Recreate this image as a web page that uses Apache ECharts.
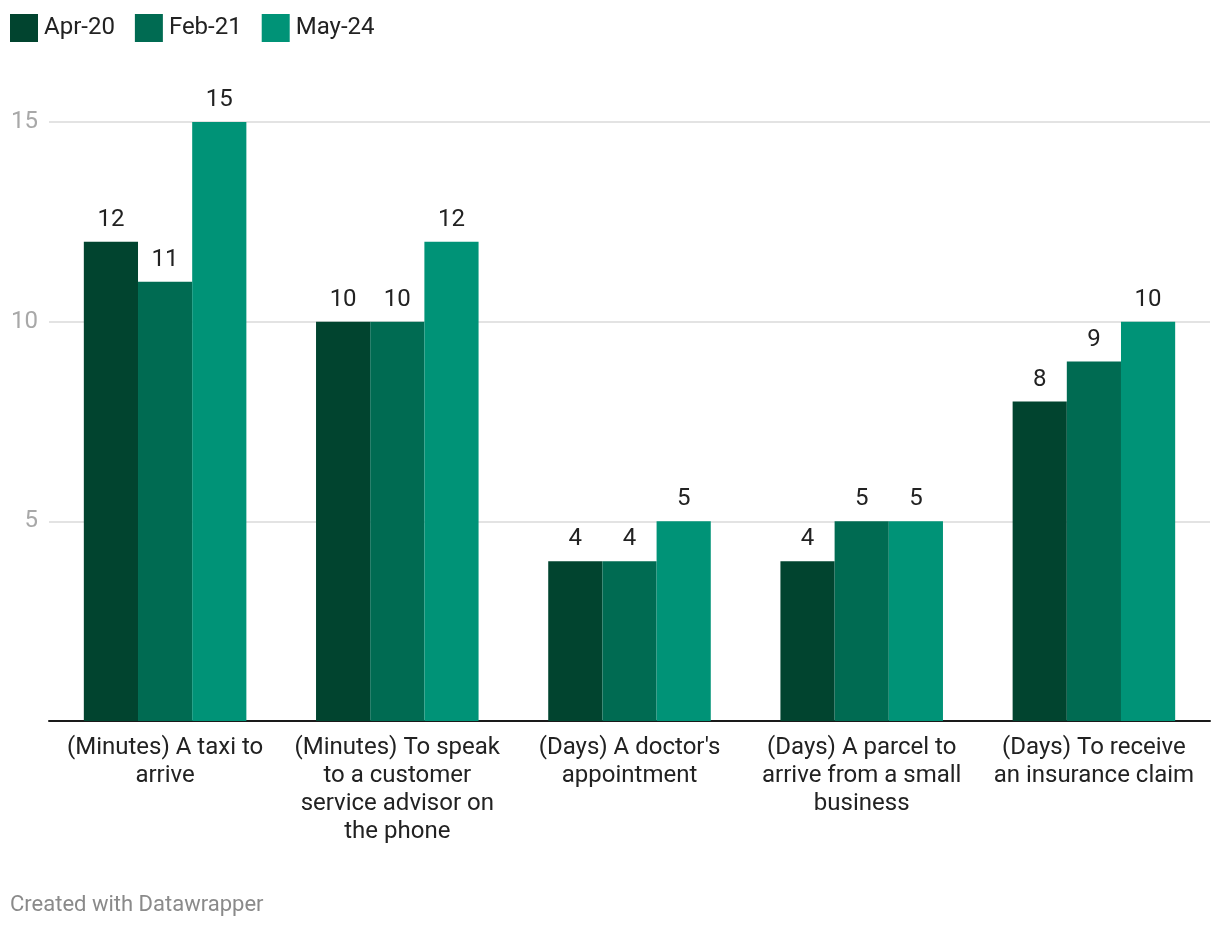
<!DOCTYPE html>
<html>
<head>
<meta charset="utf-8">
<script src="https://cdn.jsdelivr.net/npm/echarts@6/dist/echarts.min.js"></script>
<style>
html,body{margin:0;padding:0;background:#fff;}
#c{width:1220px;height:928px;}
</style>
</head>
<body>
<div id="c"></div>
<script>
const categories = [
  "(Minutes) A taxi to\narrive",
  "(Minutes) To speak\nto a customer\nservice advisor on\nthe phone",
  "(Days) A doctor's\nappointment",
  "(Days) A parcel to\narrive from a small\nbusiness",
  "(Days) To receive\nan insurance claim"
];
const seriesNames = ["Apr-20", "Feb-21", "May-24"];
const apr20 = [12, 10, 4, 4, 8];
const feb21 = [11, 10, 4, 5, 9];
const may24 = [15, 12, 5, 5, 10];
const colors = ["#01442f", "#006b52", "#009377"];
const yTicks = { min: 0, max: 15, interval: 5 };

const chart = echarts.init(document.getElementById('c'), null, { renderer: 'canvas' });
const font = 'Roboto';
const values = [apr20, feb21, may24];
chart.setOption({
  animation: false,
  textStyle: { fontFamily: font },
  color: colors,
  legend: {
    left: 10, top: 14, padding: 0,
    itemWidth: 28, itemHeight: 28, itemGap: 20,
    icon: 'rect',
    textStyle: { fontSize: 24, color: '#222', fontFamily: font, padding: [0, 0, 0, 1] },
    data: seriesNames
  },
  grid: { left: 49, right: 10, top: 122, bottom: 207, containLabel: false },
  xAxis: {
    type: 'category',
    data: categories,
    axisLine: { lineStyle: { color: '#1a1a1a', width: 2 } },
    axisTick: { show: false },
    axisLabel: {
      fontSize: 24, color: '#222', lineHeight: 28, margin: 13,
      interval: 0, fontFamily: font, align: 'center'
    }
  },
  yAxis: {
    type: 'value',
    min: yTicks.min, max: yTicks.max, interval: yTicks.interval,
    axisLine: { show: false },
    axisTick: { show: false },
    splitLine: { lineStyle: { color: '#e3e3e3', width: 2 } },
    axisLabel: {
      showMinLabel: false,
      fontSize: 24, color: '#a8a8a8', margin: 11, fontFamily: font
    }
  },
  series: seriesNames.map((n, i) => ({
    name: n,
    type: 'bar',
    data: values[i],
    barGap: '0%',
    barCategoryGap: '30%',
    itemStyle: { color: colors[i] },
    label: {
      show: true, position: 'top', distance: 10,
      fontSize: 24, color: '#222', fontFamily: font
    }
  })),
  graphic: [{
    type: 'text', left: 10, top: 894,
    style: { text: 'Created with Datawrapper', fontSize: 22, fill: '#8a8a8a', fontFamily: font }
  }]
});
</script>
</body>
</html>
